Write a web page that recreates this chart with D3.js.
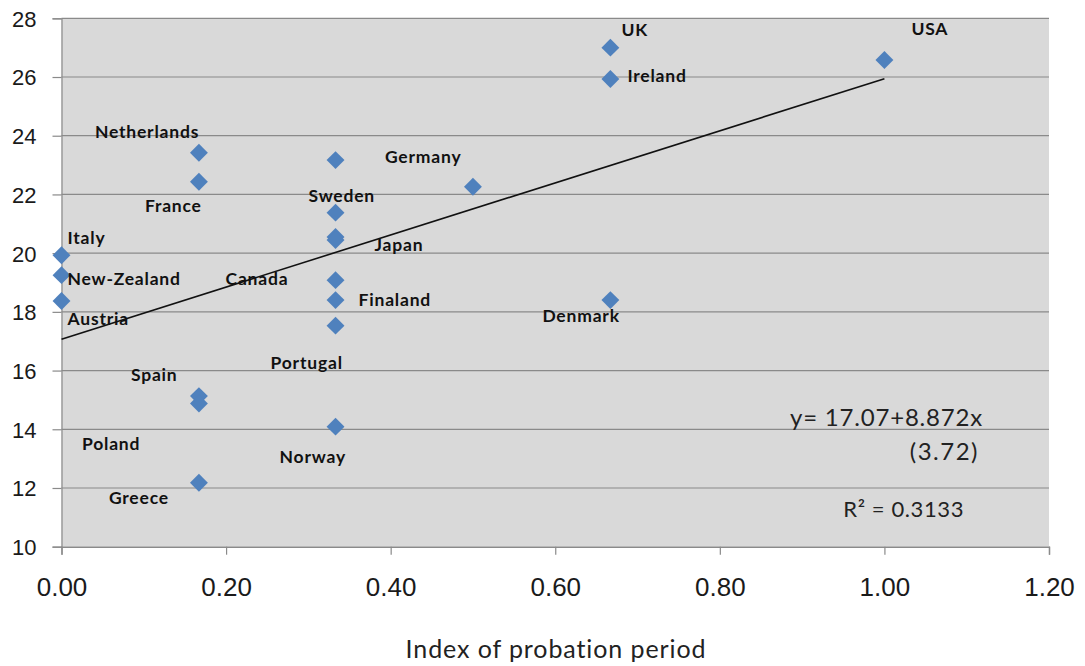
<!DOCTYPE html>
<html lang="en">
<head>
    <meta charset="UTF-8">
    <title>Probation period scatter</title>
    <script src="https://cdn.jsdelivr.net/npm/d3@7/dist/d3.min.js"></script>
    <style>
        body { margin: 0; background: #ffffff; }
    </style>
</head>
<body>
<div id="mainContent"></div>
<script>
    // data
    const countries = ["Netherlands", "France", "Spain", "Poland", "Greece",
        "Italy", "New-Zealand", "Austria",
        "", "Sweden", "", "Japan", "Canada", "Finaland", "Portugal", "Norway",
        "Germany", "UK", "Ireland", "Denmark", "USA"];
    const probationIndex = [0.167, 0.167, 0.167, 0.167, 0.167,
        0, 0, 0,
        0.333, 0.333, 0.333, 0.333, 0.333, 0.333, 0.333, 0.333,
        0.5, 0.667, 0.667, 0.667, 1.0];
    const outcome = [23.42, 22.43, 15.13, 14.88, 12.18,
        19.93, 19.25, 18.37,
        23.17, 21.38, 20.55, 20.45, 19.08, 18.40, 17.53, 14.09,
        22.26, 27.0, 25.93, 18.40, 26.58];

    const xTicks = [0, 0.2, 0.4, 0.6, 0.8, 1.0, 1.2];
    const yTicks = [10, 12, 14, 16, 18, 20, 22, 24, 26, 28];
    const trendIntercept = 17.07, trendSlope = 8.872;
    const trendRange = [0, 1.0];

    // label placement (pixel offsets from the marker, left edge / middle)
    const labelOffset = {
        "Netherlands": [-104, -21], "France": [-54, 24], "Spain": [-68, -21],
        "Poland": [-117, 40], "Greece": [-90, 15], "Italy": [6, -17],
        "New-Zealand": [6, 4], "Austria": [6, 18], "Sweden": [-27, -17],
        "Japan": [39, 5], "Canada": [-110, -1], "Finaland": [23, 0],
        "Portugal": [-65, 37], "Norway": [-56, 30], "Germany": [-88, -30],
        "UK": [11, -18], "Ireland": [17, -3], "Denmark": [-68, 16], "USA": [27, -31]
    };

    const points = countries.map((c, i) => ({name: c, x: probationIndex[i], y: outcome[i]}));

    const W = 1085, H = 666;
    const margin = {top: 18.3, right: 36, bottom: 119.3, left: 61.5},
        width = W - margin.left - margin.right,
        height = H - margin.top - margin.bottom;

    let xScale = d3.scaleLinear().domain([0, 1.2]).range([0, width]);
    let yScale = d3.scaleLinear().domain([10, 28]).range([height, 0]);

    let svg = d3.select("#mainContent")
        .append("svg")
        .attr("width", W)
        .attr("height", H);

    let g = svg.append("g")
        .attr("transform", "translate(" + margin.left + "," + margin.top + ")");

    // plot background
    g.append("rect")
        .attr("width", width)
        .attr("height", height)
        .attr("fill", "#d9d9d9");

    // gridlines
    g.append("g")
        .selectAll("line")
        .data(yTicks.slice(1))
        .enter().append("line")
        .attr("x1", 0).attr("x2", width)
        .attr("y1", d => yScale(d)).attr("y2", d => yScale(d))
        .attr("stroke", "#8a8a8a")
        .attr("stroke-width", 1.2);

    // y axis
    const yAxisGroup = g.append("g");
    yAxisGroup.call(d3.axisLeft(yScale).tickValues(yTicks).tickSize(9).tickPadding(16).tickFormat(d3.format("d")));
    yAxisGroup.select(".domain").attr("stroke", "#8a8a8a").attr("stroke-width", 1.2);
    yAxisGroup.selectAll(".tick line").attr("stroke", "#8a8a8a").attr("stroke-width", 1.2);
    yAxisGroup.selectAll(".tick text")
        .attr("font-family", "'Liberation Sans', Arial, sans-serif")
        .attr("font-size", 22)
        .attr("fill", "#1a1a1a")
        .attr("dy", "0.36em");

    // x axis
    const xAxisGroup = g.append("g").attr("transform", "translate(0," + height + ")");
    xAxisGroup.call(d3.axisBottom(xScale).tickValues(xTicks).tickSize(8).tickPadding(23).tickFormat(d3.format(".2f")));
    xAxisGroup.select(".domain").attr("stroke", "#8a8a8a").attr("stroke-width", 1.4);
    xAxisGroup.selectAll(".tick line").attr("stroke", "#8a8a8a").attr("stroke-width", 1.2);
    xAxisGroup.selectAll(".tick text")
        .attr("font-family", "'Liberation Sans', Arial, sans-serif")
        .attr("font-size", 26)
        .attr("fill", "#1a1a1a")
        .attr("dy", "0.71em");

    // trend line
    const line = d3.line()
        .x(d => xScale(d))
        .y(d => yScale(trendIntercept + trendSlope * d));
    g.append("path")
        .attr("d", line(trendRange))
        .attr("fill", "none")
        .attr("stroke", "#111111")
        .attr("stroke-width", 1.6);

    // markers
    const diamond = d3.symbol().type(d3.symbolSquare).size(160);
    g.append("g")
        .selectAll("path")
        .data(points).enter()
        .append("path")
        .attr("d", diamond)
        .attr("transform", d => "translate(" + xScale(d.x) + "," + yScale(d.y) + ") rotate(45)")
        .attr("fill", "#4f81bd");

    // country labels
    g.append("g")
        .selectAll("text")
        .data(points.filter(d => d.name !== "")).enter()
        .append("text")
        .attr("x", d => xScale(d.x) + labelOffset[d.name][0])
        .attr("y", d => yScale(d.y) + labelOffset[d.name][1])
        .attr("dy", "0.35em")
        .attr("font-family", "Lato, sans-serif")
        .attr("font-weight", "bold")
        .attr("font-size", 17.5)
        .attr("letter-spacing", 0.8)
        .attr("fill", "#111111")
        .text(d => d.name);

    // regression annotation
    const eq = g.append("g")
        .attr("font-family", "Lato, sans-serif")
        .attr("fill", "#222222");
    eq.append("text")
        .attr("x", 983 - margin.left).attr("y", 426 - margin.top)
        .attr("text-anchor", "end")
        .attr("font-size", 24)
        .attr("letter-spacing", 0.8)
        .text("y= " + trendIntercept + "+" + trendSlope + "x");
    eq.append("text")
        .attr("x", 979 - margin.left).attr("y", 460 - margin.top)
        .attr("text-anchor", "end")
        .attr("font-size", 24)
        .attr("letter-spacing", 1.5)
        .text("(3.72)");
    eq.append("text")
        .attr("x", 964 - margin.left).attr("y", 517 - margin.top)
        .attr("text-anchor", "end")
        .attr("font-size", 22)
        .attr("letter-spacing", 0.6)
        .text("R\u00B2 = 0.3133");

    // axis title
    svg.append("text")
        .attr("x", 556).attr("y", 658)
        .attr("text-anchor", "middle")
        .attr("font-family", "Lato, sans-serif")
        .attr("font-size", 25)
        .attr("letter-spacing", 0.9)
        .attr("fill", "#222222")
        .text("Index of probation period");
</script>
</body>
</html>
